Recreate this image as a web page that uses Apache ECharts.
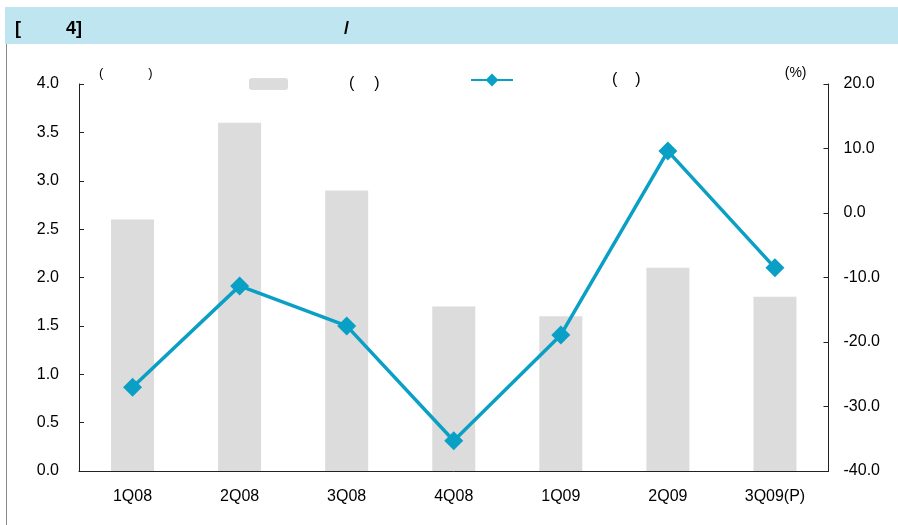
<!DOCTYPE html>
<html>
<head>
<meta charset="utf-8">
<script src="https://cdn.jsdelivr.net/npm/echarts@6/dist/echarts.min.js"></script>
<style>html,body{margin:0;padding:0;background:#fff;}#c{width:898px;height:525px;}</style>
</head>
<body>
<div id="c"></div>
<script>
var categories = ['1Q08', '2Q08', '3Q08', '4Q08', '1Q09', '2Q09', '3Q09(P)'];
var barValues = [2.6, 3.6, 2.9, 1.7, 1.6, 2.1, 1.8];
var lineValues = [-27.0, -11.3, -17.5, -35.3, -18.9, 9.6, -8.5];
var leftTicks = { min: 0, max: 4, interval: 0.5 };
var rightTicks = { min: -40, max: 20, interval: 10 };

var FONT = '"Liberation Sans", Arial, sans-serif';
var chart = echarts.init(document.getElementById('c'), null, { renderer: 'canvas' });
var titleStyle = { fontSize: 18, fontWeight: 'bold', color: '#000', fontFamily: FONT };
var option = {
  backgroundColor: '#fff',
  animation: false,
  textStyle: { fontFamily: FONT },
  graphic: [
    { type: 'rect', shape: { x: 5, y: 7, width: 893, height: 37 }, style: { fill: '#BFE6F0' }, z: 0 },
    { type: 'line', shape: { x1: 6.5, y1: 44, x2: 6.5, y2: 525 }, style: { stroke: '#8a8a8a', lineWidth: 1 }, z: 0 }
  ],
  title: [
    { text: '[', left: 15, top: 20, padding: 0, textStyle: titleStyle },
    { text: '4]', left: 66, top: 20, padding: 0, textStyle: titleStyle },
    { text: '/', left: 344, top: 20, padding: 0, textStyle: titleStyle }
  ],
  legend: [
    {
      data: ['bar'], left: 249, top: 76, itemWidth: 39, itemHeight: 12, padding: 0,
      formatter: function () { return '{g| }{p|(}{s| }{p|)}'; },
      textStyle: { color: '#000', fontSize: 16, fontFamily: FONT,
        rich: { g: { width: 56 }, s: { width: 20 }, p: { fontSize: 16, color: '#000' } } }
    },
    {
      data: ['line'], left: 470, top: 72, itemWidth: 42, itemHeight: 16, padding: 0,
      formatter: function () { return '{g| }{p|(}{s| }{p|)}'; },
      textStyle: { color: '#000', fontSize: 16, fontFamily: FONT,
        rich: { g: { width: 94 }, s: { width: 18 }, p: { fontSize: 16, color: '#000' } } }
    }
  ],
  grid: { left: 79, right: 69.5, top: 84, bottom: 54, containLabel: false },
  xAxis: {
    type: 'category',
    data: categories,
    boundaryGap: true,
    axisLine: { lineStyle: { color: '#222', width: 1 } },
    axisTick: { inside: true, length: 5, lineStyle: { color: '#222' } },
    axisLabel: { color: '#000', fontSize: 16, margin: 18, fontFamily: FONT, interval: 0 },
    splitLine: { show: false }
  },
  yAxis: [
    {
      type: 'value', min: leftTicks.min, max: leftTicks.max, interval: leftTicks.interval,
      position: 'left',
      name: '{p|(}{s| }{p|)}',
      nameLocation: 'end', nameGap: 11,
      nameTextStyle: { align: 'left', verticalAlign: 'middle', padding: [0, 0, 0, 20], fontSize: 13, color: '#000',
        rich: { p: { fontSize: 13, color: '#000' }, s: { width: 45 } } },
      axisLine: { show: true, lineStyle: { color: '#222' } },
      axisTick: { show: true, inside: true, length: 5, lineStyle: { color: '#222' } },
      axisLabel: { color: '#000', fontSize: 16, margin: 20, fontFamily: FONT, formatter: function (v) { return v.toFixed(1); } },
      splitLine: { show: false }
    },
    {
      type: 'value', min: rightTicks.min, max: rightTicks.max, interval: rightTicks.interval,
      position: 'right',
      name: '(%)',
      nameLocation: 'end', nameGap: 11,
      nameTextStyle: { align: 'right', verticalAlign: 'middle', padding: [0, 22, 0, 0], fontSize: 14, color: '#000' },
      axisLine: { show: true, lineStyle: { color: '#222' } },
      axisTick: { show: true, inside: true, length: 5, lineStyle: { color: '#222' } },
      axisLabel: { color: '#000', fontSize: 16, margin: 15, fontFamily: FONT, formatter: function (v) { return v.toFixed(1); } },
      splitLine: { show: false }
    }
  ],
  series: [
    {
      name: 'bar', type: 'bar', yAxisIndex: 0, data: barValues, barWidth: 43,
      itemStyle: { color: '#DCDCDC' }, z: 1
    },
    {
      name: 'line', type: 'line', yAxisIndex: 1, data: lineValues,
      symbol: 'diamond', symbolSize: 19, showAllSymbol: true,
      lineStyle: { color: '#0AA0C6', width: 3.5 },
      itemStyle: { color: '#0AA0C6' }, z: 3
    }
  ]
};
chart.setOption(option);
</script>
</body>
</html>
